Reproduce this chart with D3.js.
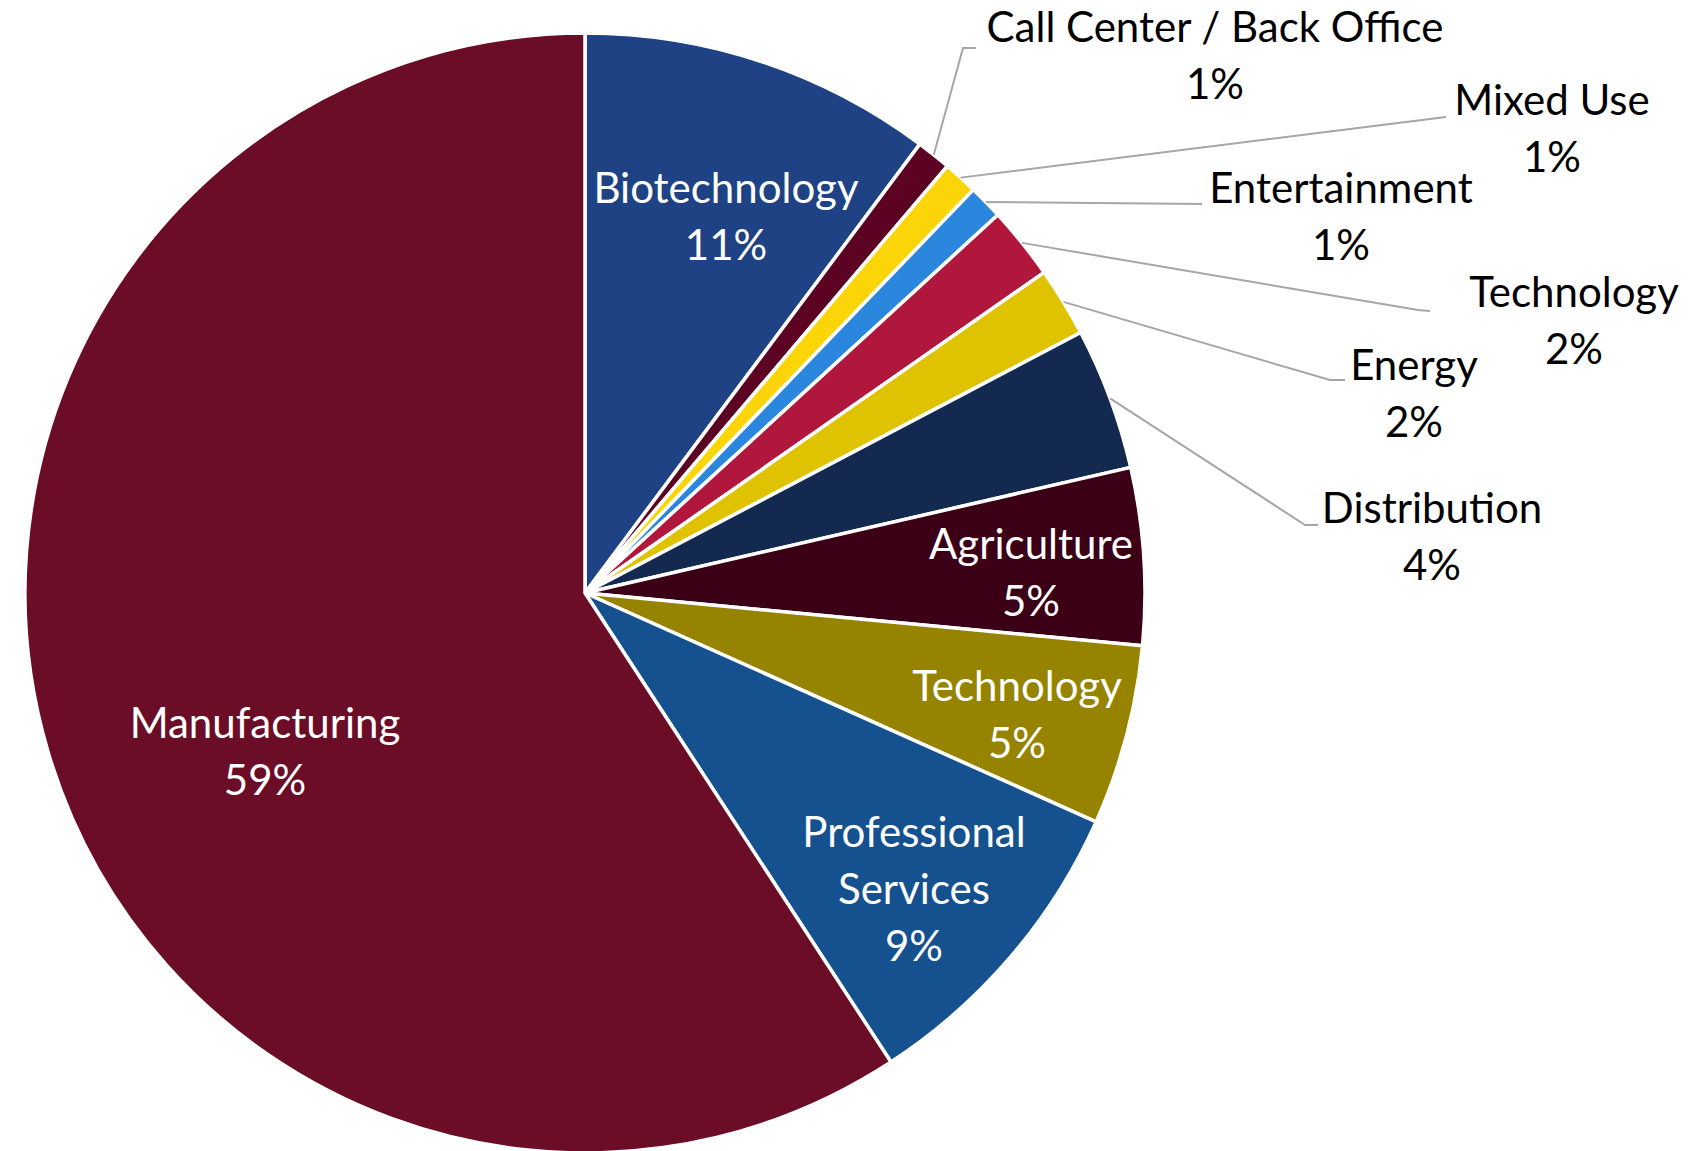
<!DOCTYPE html>
<html>
<head>
<meta charset="utf-8">
<script src="https://cdn.jsdelivr.net/npm/d3@7"></script>
<style>
  body { margin: 0; background: #fff; }
  text { font-family: Lato, "Open Sans", sans-serif; }
</style>
</head>
<body>
<div id="chart"></div>
<script>
// sectors, clockwise from 12 o'clock
const categories = ["Biotechnology", "Call Center / Back Office", "Mixed Use", "Entertainment",
  "Technology", "Energy", "Distribution", "Agriculture", "Technology", "Professional Services", "Manufacturing"];
const shares = [10.2, 1.0, 1.0, 1.0, 2.1, 2.0, 4.1, 5.1, 5.2, 9.1, 59.2];
const pctLabels = ["11%", "1%", "1%", "1%", "2%", "2%", "4%", "5%", "5%", "9%", "59%"];
const colors = ["#1e4283", "#5c0323", "#fbd507", "#2b87dd", "#b1163c", "#e0c300",
  "#13294f", "#3b0015", "#968300", "#16518f", "#6b0d26"];

const width = 1706;
const height = 1151;
const cx = 585, cy = 593, radius = 560;
const fontSize = 42;
const lineGap = 57;

// label layout: lines, anchor x, first baseline y, inside or with leader
const labelLayout = [
  { lines: ["Biotechnology"], x: 726, y: 203, inside: true },
  { lines: ["Call Center / Back Office"], x: 1215, y: 42, bend: [963, 48], end: [976, 48] },
  { lines: ["Mixed Use"], x: 1552, y: 115, bend: null, end: [1446, 117] },
  { lines: ["Entertainment"], x: 1341, y: 203, bend: null, end: [1202, 204] },
  { lines: ["Technology"], x: 1574, y: 307, bend: [1418, 310], end: [1430, 311] },
  { lines: ["Energy"], x: 1414, y: 380, bend: [1330, 380], end: [1345, 380] },
  { lines: ["Distribution"], x: 1432, y: 523, bend: [1305, 525], end: [1318, 525] },
  { lines: ["Agriculture"], x: 1031, y: 559, inside: true },
  { lines: ["Technology"], x: 1017, y: 701, inside: true },
  { lines: ["Professional", "Services"], x: 914, y: 847, inside: true },
  { lines: ["Manufacturing"], x: 265, y: 738, inside: true }
];

const data = categories.map((c, i) => ({ name: c, value: shares[i], pct: pctLabels[i], i }));

const pie = d3.pie()
    .sort(null)
    .value(d => d.value)
    .startAngle(0)
    .endAngle(2 * Math.PI);

const arc = d3.arc()
    .innerRadius(0)
    .outerRadius(radius);

const edgeArc = d3.arc()
    .innerRadius(radius)
    .outerRadius(radius);

const svg = d3.select("#chart")
  .append("svg")
    .attr("width", width)
    .attr("height", height)
    .style("display", "block");

svg.append("rect")
    .attr("width", width)
    .attr("height", height)
    .attr("fill", "#fff");

const g = svg.append("g")
    .attr("transform", `translate(${cx},${cy})`);

const arcs = pie(data);

g.selectAll("path.slice")
  .data(arcs)
  .join("path")
    .attr("class", "slice")
    .attr("d", arc)
    .attr("fill", d => colors[d.data.i])
    .attr("stroke", "#fff")
    .attr("stroke-width", 3.5)
    .attr("stroke-linejoin", "round");

// leader lines
arcs.forEach(d => {
  const lay = labelLayout[d.data.i];
  if (lay.inside) return;
  const [sx, sy] = edgeArc.centroid(d);
  const pts = [[cx + sx, cy + sy]];
  if (lay.bend) pts.push(lay.bend);
  pts.push(lay.end);
  svg.append("path")
      .attr("d", d3.line()(pts))
      .attr("fill", "none")
      .attr("stroke", "#a6a6a6")
      .attr("stroke-width", 2);
});

// labels
arcs.forEach(d => {
  const lay = labelLayout[d.data.i];
  const lines = lay.lines.concat([d.data.pct]);
  const t = svg.append("text")
      .attr("text-anchor", "middle")
      .attr("font-size", fontSize)
      .attr("fill", lay.inside ? "#fff" : "#000");
  lines.forEach((ln, k) => {
    t.append("tspan")
        .attr("x", lay.x)
        .attr("y", lay.y + k * lineGap)
        .text(ln);
  });
});
</script>
</body>
</html>
